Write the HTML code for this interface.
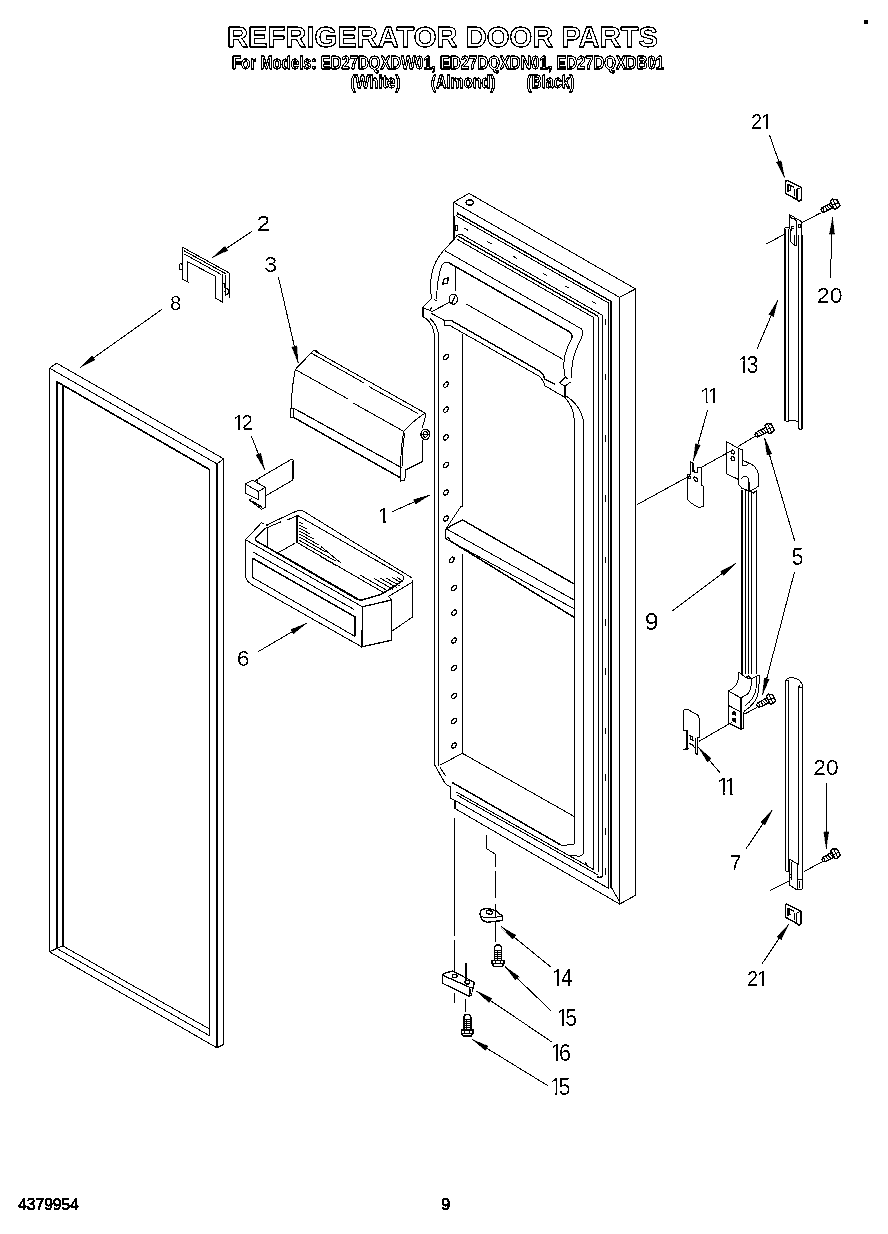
<!DOCTYPE html>
<html lang="en">
<head>
<meta charset="utf-8">
<title>Refrigerator Door Parts</title>
<style>
html,body{margin:0;padding:0;background:#fff;}
body{width:888px;height:1234px;overflow:hidden;font-family:"Liberation Sans",sans-serif;}
svg{display:block;}
svg text{font-family:"Liberation Sans",sans-serif;}
.n{fill:#000;}
.o{fill:#fff;stroke:#000;stroke-width:0.9;font-weight:bold;}
.b{fill:#000;stroke:#000;stroke-width:0.4;}
.art{fill:none;stroke:#000;stroke-linecap:butt;stroke-linejoin:miter;}
</style>
</head>
<body>
<svg width="888" height="1234" viewBox="0 0 888 1234">
<defs><filter id="bw" x="0" y="0" width="100%" height="100%" color-interpolation-filters="sRGB"><feComponentTransfer><feFuncR type="discrete" tableValues="0 0 1"/><feFuncG type="discrete" tableValues="0 0 1"/><feFuncB type="discrete" tableValues="0 0 1"/></feComponentTransfer></filter><filter id="bw2" x="0" y="0" width="100%" height="100%" color-interpolation-filters="sRGB"><feComponentTransfer><feFuncR type="discrete" tableValues="0 0 0 0 0 1 1 1 1 1 1 1"/><feFuncG type="discrete" tableValues="0 0 0 0 0 1 1 1 1 1 1 1"/><feFuncB type="discrete" tableValues="0 0 0 0 0 1 1 1 1 1 1 1"/></feComponentTransfer></filter>
<clipPath id="c0" clipPathUnits="userSpaceOnUse"><path d="M-4,208.84 h19.91 v19.93 h-19.91 z M-0.60,228.27 h11.12 v4.83 h-11.12 z"/></clipPath>
<clipPath id="c1" clipPathUnits="userSpaceOnUse"><path d="M-4,249.24 h20.95 v20.85 h-20.95 z M-0.60,269.59 h11.99 v4.91 h-11.99 z"/></clipPath>
<clipPath id="c2" clipPathUnits="userSpaceOnUse"><path d="M-4,289.63 h19.98 v19.01 h-19.98 z M-0.60,308.14 h10.96 v4.76 h-10.96 z"/></clipPath>
<clipPath id="c3" clipPathUnits="userSpaceOnUse"><path d="M-4,407.47 h28.31 v20.46 h-28.31 z M3.33,427.43 h2.26 v4.87 h-2.26 z M9.48,427.43 h9.09 v4.87 h-9.09 z"/></clipPath>
<clipPath id="c4" clipPathUnits="userSpaceOnUse"><path d="M-4,501.21 h15.50 v20.33 h-15.50 z M3.31,521.04 h2.24 v4.86 h-2.24 z"/></clipPath>
<clipPath id="c5" clipPathUnits="userSpaceOnUse"><path d="M-4,643.82 h20.49 v20.59 h-20.49 z M-0.60,663.91 h11.56 v4.89 h-11.56 z"/></clipPath>
<clipPath id="c6" clipPathUnits="userSpaceOnUse"><path d="M-4,106.32 h28.90 v20.59 h-28.90 z M-0.60,126.41 h11.45 v4.89 h-11.45 z M16.18,126.41 h2.27 v4.89 h-2.27 z"/></clipPath>
<clipPath id="c7" clipPathUnits="userSpaceOnUse"><path d="M-4,281.04 h32.46 v19.93 h-32.46 z M-0.60,300.47 h11.12 v4.83 h-11.12 z M11.39,300.47 h11.60 v4.83 h-11.60 z"/></clipPath>
<clipPath id="c8" clipPathUnits="userSpaceOnUse"><path d="M-4,349.96 h29.27 v21.11 h-29.27 z M3.43,370.57 h2.33 v4.93 h-2.33 z M9.77,370.57 h9.74 v4.93 h-9.74 z"/></clipPath>
<clipPath id="c9" clipPathUnits="userSpaceOnUse"><path d="M-4,381.51 h22.59 v19.40 h-22.59 z M3.16,400.41 h2.14 v4.79 h-2.14 z M10.45,400.41 h2.14 v4.79 h-2.14 z"/></clipPath>
<clipPath id="c10" clipPathUnits="userSpaceOnUse"><path d="M-4,541.71 h21.41 v21.25 h-21.41 z M-0.60,562.46 h12.19 v4.94 h-12.19 z"/></clipPath>
<clipPath id="c11" clipPathUnits="userSpaceOnUse"><path d="M-4,606.66 h20.66 v21.11 h-20.66 z M-0.60,627.27 h11.84 v4.93 h-11.84 z"/></clipPath>
<clipPath id="c12" clipPathUnits="userSpaceOnUse"><path d="M-4,771.56 h23.62 v21.11 h-23.62 z M3.43,792.17 h2.33 v4.93 h-2.33 z M11.24,792.17 h2.33 v4.93 h-2.33 z"/></clipPath>
<clipPath id="c13" clipPathUnits="userSpaceOnUse"><path d="M-4,753.49 h32.69 v20.07 h-32.69 z M-0.60,773.06 h11.19 v4.84 h-11.19 z M11.50,773.06 h11.67 v4.84 h-11.67 z"/></clipPath>
<clipPath id="c14" clipPathUnits="userSpaceOnUse"><path d="M-4,848.81 h19.76 v19.40 h-19.76 z M-0.60,867.71 h10.84 v4.79 h-10.84 z"/></clipPath>
<clipPath id="c15" clipPathUnits="userSpaceOnUse"><path d="M-4,963.61 h28.63 v20.33 h-28.63 z M-0.60,983.44 h11.32 v4.86 h-11.32 z M15.98,983.44 h2.24 v4.86 h-2.24 z"/></clipPath>
<clipPath id="c16" clipPathUnits="userSpaceOnUse"><path d="M-4,961.49 h31.50 v22.56 h-31.50 z M3.67,983.55 h2.49 v5.05 h-2.49 z M10.41,983.55 h11.14 v5.05 h-11.14 z"/></clipPath>
<clipPath id="c17" clipPathUnits="userSpaceOnUse"><path d="M-4,1002.97 h29.54 v21.38 h-29.54 z M3.48,1023.85 h2.36 v4.95 h-2.36 z M9.89,1023.85 h9.86 v4.95 h-9.86 z"/></clipPath>
<clipPath id="c18" clipPathUnits="userSpaceOnUse"><path d="M-4,1036.72 h29.95 v22.17 h-29.95 z M3.60,1058.39 h2.44 v5.01 h-2.44 z M10.24,1058.39 h9.86 v5.01 h-9.86 z"/></clipPath>
<clipPath id="c19" clipPathUnits="userSpaceOnUse"><path d="M-4,1071.74 h29.90 v21.78 h-29.90 z M3.54,1093.02 h2.40 v4.98 h-2.40 z M10.07,1093.02 h10.02 v4.98 h-10.02 z"/></clipPath>
</defs>
<g filter="url(#bw)">
<rect width="888" height="1234" fill="#fff"/>
<text class="o" x="227" y="47.2" font-size="30" textLength="431" lengthAdjust="spacingAndGlyphs" text-anchor="start">REFRIGERATOR DOOR PARTS</text>
<text class="o" x="232" y="68.9" font-size="17.5" textLength="432" lengthAdjust="spacingAndGlyphs" text-anchor="start">For Models: ED27DQXDW01, ED27DQXDN01, ED27DQXDB01</text>
<text class="o" x="350.5" y="87.6" font-size="17.5" textLength="50" lengthAdjust="spacingAndGlyphs" text-anchor="start">(White)</text>
<text class="o" x="431" y="87.6" font-size="17.5" textLength="64.5" lengthAdjust="spacingAndGlyphs" text-anchor="start">(Almond)</text>
<text class="o" x="526.5" y="87.6" font-size="17.5" textLength="48" lengthAdjust="spacingAndGlyphs" text-anchor="start">(Black)</text>
<text class="b" x="18.2" y="1209.8" font-size="16.4" textLength="60.6" lengthAdjust="spacingAndGlyphs" text-anchor="start">4379954</text>
<text class="b" x="441.4" y="1210.2" font-size="16.4" textLength="8.8" lengthAdjust="spacingAndGlyphs" text-anchor="start">9</text>
</g>
<g filter="url(#bw2)">
<rect y="100" width="888" height="1060" fill="#fff"/>
<text class="n" transform="translate(258.00,0) scale(1.109,1)" x="-1.09" y="230.6" font-size="21.76" clip-path="url(#c0)">2</text>
<text class="n" transform="translate(265.00,0) scale(1.020,1)" x="-0.86" y="272" font-size="22.76" clip-path="url(#c1)">3</text>
<text class="n" transform="translate(170.80,0) scale(0.994,1)" x="-0.89" y="310.4" font-size="20.77" clip-path="url(#c2)">8</text>
<text class="n" transform="translate(235.10,0) scale(0.940,1)" x="-2.14 6.67" y="429.8" font-size="22.33" clip-path="url(#c3)">12</text>
<text class="n" transform="translate(379.80,0) scale(1.053,1)" x="-2.13" y="523.4" font-size="22.19" clip-path="url(#c4)">1</text>
<text class="n" transform="translate(237.80,0) scale(1.032,1)" x="-1.15" y="666.3" font-size="22.48" clip-path="url(#c5)">6</text>
<text class="n" transform="translate(752.10,0) scale(0.852,1)" x="-1.12 10.68" y="128.8" font-size="22.48" clip-path="url(#c6)">21</text>
<text class="n" transform="translate(817.90,0) scale(1.063,1)" x="-1.09 11.14" y="302.8" font-size="21.76" clip-path="url(#c7)">20</text>
<text class="n" transform="translate(740.00,0) scale(0.931,1)" x="-2.21 7.11" y="373" font-size="23.04" clip-path="url(#c8)">13</text>
<text class="n" transform="translate(702.20,0) scale(1.035,1)" x="-2.03 5.26" y="402.7" font-size="21.19" clip-path="url(#c9)">11</text>
<text class="n" transform="translate(792.70,0) scale(0.910,1)" x="-0.93" y="564.9" font-size="23.19" clip-path="url(#c10)">5</text>
<text class="n" transform="translate(646.00,0) scale(1.090,1)" x="-1.08" y="629.7" font-size="23.04" clip-path="url(#c11)">9</text>
<text class="n" transform="translate(719.00,0) scale(1.005,1)" x="-2.21 5.60" y="794.6" font-size="23.04" clip-path="url(#c12)">11</text>
<text class="n" transform="translate(814.30,0) scale(1.041,1)" x="-1.10 11.25" y="775.4" font-size="21.91" clip-path="url(#c13)">20</text>
<text class="n" transform="translate(730.50,0) scale(1.037,1)" x="-1.08" y="870" font-size="21.19" clip-path="url(#c14)">7</text>
<text class="n" transform="translate(748.10,0) scale(0.863,1)" x="-1.11 10.54" y="985.8" font-size="22.19" clip-path="url(#c15)">21</text>
<text class="n" transform="translate(554.10,0) scale(0.864,1)" x="-2.36 7.99" y="986.1" font-size="24.61" clip-path="url(#c16)">14</text>
<text class="n" transform="translate(558.60,0) scale(0.919,1)" x="-2.24 7.15" y="1026.3" font-size="23.33" clip-path="url(#c17)">15</text>
<text class="n" transform="translate(552.70,0) scale(0.898,1)" x="-2.32 7.12" y="1060.9" font-size="24.18" clip-path="url(#c18)">16</text>
<text class="n" transform="translate(552.00,0) scale(0.909,1)" x="-2.28 7.27" y="1095.5" font-size="23.76" clip-path="url(#c19)">15</text>
</g>
<g class="art" shape-rendering="crispEdges">
<rect x="864" y="20" width="4" height="4" fill="#000" stroke="none"/>
<polyline points="49.5,368.2 56.6,363.2 223.8,458.9 223.8,1044.3 217,1047.8 49.5,951.9 49.5,368.2" stroke-width="1.0"/>
<polyline points="49.5,368.2 217,463.8 223.8,458.9" stroke-width="1.0"/>
<polyline points="217,463.8 217,1047.8" stroke-width="2"/>
<polyline points="56.8,948.4 56.8,381.3 209.5,469.2 209.5,1035.7" stroke-width="1.0"/>
<polyline points="57.3,381.3 57.3,948.4" stroke-width="2"/>
<polyline points="56.8,948.4 209.5,1035.7" stroke-width="1.0"/>
<polyline points="63.3,946 63.3,385" stroke-width="2"/>
<polyline points="57,381.8 209.5,469.7" stroke-width="1.5"/>
<polyline points="63,946 209.5,1029" stroke-width="1.0"/>
<polyline points="49.5,951.9 56.8,948.4 63,946" stroke-width="1.0"/>
<polyline points="182.4,279.3 182.4,247.2 229.3,273 229.3,298.2" stroke-width="1.0"/>
<polyline points="184.2,250.8 226.6,274.2" stroke-width="1.0"/>
<polyline points="184.2,254 221.2,274.5" stroke-width="1.0"/>
<polyline points="182.4,279.3 188.7,282.5" stroke-width="1.0"/>
<polyline points="187,282 187,261.3 215.8,276.6 215.8,298.2 222,301.8 222,274" stroke-width="1.0"/>
<polyline points="225.5,275 225.5,296" stroke-width="1.0"/>
<ellipse cx="180.8" cy="266.7" rx="1.5" ry="3" stroke-width="1.0" fill="none"/>
<ellipse cx="226.8" cy="291.5" rx="1.6" ry="3.2" stroke-width="1.4" fill="none"/>
<polyline points="222.5,283 224.5,283 224.5,288" stroke-width="1.0"/>
<polyline points="295.3,369.5 313.6,350.3 425.1,413.1" stroke-width="1.0"/>
<path d="M313.6,350.3 Q316,349.5 318,351.5" stroke-width="1.0" fill="none"/>
<polyline points="311.6,353.3 364.3,383.1" stroke-width="1.0"/>
<polyline points="369.3,386.8 418,413.6" stroke-width="1.0"/>
<polyline points="295.3,369.5 348,399" stroke-width="1.0"/>
<polyline points="353.1,403 403.8,431.4" stroke-width="1.0"/>
<path d="M295.3,369.5 Q291.5,388 291.3,408" stroke-width="1.0" fill="none"/>
<polyline points="290.3,408 290.3,417.2 293.3,417.2 293.3,408 290.3,408" stroke-width="1.0"/>
<polyline points="293.3,408 401.8,467.8" stroke-width="1.2"/>
<polyline points="293.3,417.2 400.8,478" stroke-width="1.5"/>
<path d="M403.8,431.4 Q400.5,448 400.8,467.8 L400.8,481 L404.8,480 L405.8,469.9 L422,461.8 L422,440" stroke-width="1.0" fill="none"/>
<path d="M403.8,431.4 Q414,420 425.1,413.1 Q426.5,416 422,428" stroke-width="1.0" fill="none"/>
<path d="M404.5,433 Q402,450 402.5,466" stroke-width="1.0" fill="none"/>
<ellipse cx="425.3" cy="434.4" rx="4.4" ry="5.2" stroke-width="1.3" fill="none"/>
<ellipse cx="425.3" cy="434.4" rx="2.2" ry="2.8" stroke-width="1.0" fill="none"/>
<polyline points="421,434.4 429.5,434.4" stroke-width="1.0"/>
<polyline points="257,479.4 291.4,459.3 293,460.2 293,478.8 292,480.5 266,495.7" stroke-width="1.0"/>
<polyline points="292.3,461 292.3,479" stroke-width="1.6"/>
<polyline points="245.2,483.9 252.5,480.2 265.5,487.3 258.2,491.4 245.2,483.9 245.2,492.9 258.2,499.7 258.2,491.4" stroke-width="1.0"/>
<polyline points="265.5,487.3 265.5,507 261.5,509.2 248.6,499.7" stroke-width="1.0"/>
<polyline points="248.6,499.7 252.5,498.5" stroke-width="1.0"/>
<polyline points="252.5,501.5 262.5,507.5" stroke-width="1.6"/>
<polyline points="254.5,481.2 256.5,479.5 258,482.5" stroke-width="1.0"/>
<path d="M245.6,539.7 L261.5,522.7 L264.4,524.4" stroke-width="1.0" fill="none"/>
<path d="M266.6,525 L296,511.3 Q299.5,509.8 303.5,511.2 L412,577.9 L412.5,617 L392.6,630.7" stroke-width="1.0" fill="none"/>
<path d="M388.3,596.5 L412.3,582.2" stroke-width="1.0" fill="none"/>
<path d="M264.9,528.9 L255.8,537.6 Q254.6,539.6 257,541.4 L356,598.6 Q359,600.4 362,600 L381.3,594.3 Q392,588 402.5,580.8" stroke-width="1.5" fill="none"/>
<path d="M402.5,580.8 Q404.6,578.5 402.6,575.4 L297.3,515.3" stroke-width="1.0" fill="none"/>
<polyline points="264.9,528.6 281.4,521.6" stroke-width="1.0"/>
<polyline points="286.5,520.4 296.2,515.9" stroke-width="1.0"/>
<polyline points="266.6,525 268.5,526.5" stroke-width="1.0"/>
<polyline points="297.3,515.3 297.3,542.6" stroke-width="2"/>
<polyline points="267.6,528.4 267.6,546.5" stroke-width="1.0"/>
<polyline points="278,552.8 295,543.1" stroke-width="1.0"/>
<polyline points="297.3,542.6 383.6,592.6" stroke-width="1.0"/>
<polyline points="278,552.8 358,598.8" stroke-width="1.0"/>
<polyline points="299.5,522.0 303.5,524.3" stroke-width="1.0"/>
<polyline points="299.5,525.0 306.5,529.0" stroke-width="1.0"/>
<polyline points="299.5,528.0 309.5,533.7" stroke-width="1.0"/>
<polyline points="299.5,531.0 313.5,539.0" stroke-width="1.0"/>
<polyline points="299.5,534.0 318.5,544.8" stroke-width="1.0"/>
<polyline points="299.5,537.0 325.5,551.8" stroke-width="1.0"/>
<polyline points="299.5,540.5 335.5,561.0" stroke-width="1.0"/>
<polyline points="360,575 386,589.8" stroke-width="1.0"/>
<polyline points="374,578.5 393,589.3" stroke-width="1.0"/>
<polyline points="380,578 397,587.7" stroke-width="1.0"/>
<polyline points="386,578 400,586.0" stroke-width="1.0"/>
<polyline points="392,577.5 401,582.6" stroke-width="1.0"/>
<polyline points="397,577.5 402,580.4" stroke-width="1.0"/>
<polyline points="321,546.5 341.5,563.5" stroke-width="1.0"/>
<polyline points="320,556.3 336,565.5" stroke-width="1.0"/>
<path d="M245.6,539.7 L245.6,576 Q246,581 251.9,584.6 L361.6,646.8" stroke-width="1.0" fill="none"/>
<polyline points="245.6,539.7 362.4,606.8" stroke-width="1.0"/>
<polyline points="253,552 354.4,609.7" stroke-width="1.0"/>
<polyline points="252.5,558.2 354.8,616.8 354.8,636.3" stroke-width="1.5"/>
<polyline points="252.5,558.2 252.5,577.4 354.8,636.3" stroke-width="1.0"/>
<polyline points="362.4,606.8 391.4,600 391.4,640.3 362,646.8 362.4,606.8" stroke-width="1.3"/>
<polyline points="388.5,596 391.4,600" stroke-width="1.0"/>
<line x1="251.8" y1="231.5" x2="212.2" y2="257.7" stroke-width="1.0"/>
<polygon points="212.2,257.7 224.9,246.2 227.8,250.5" fill="#000" stroke="#000" stroke-width="0.3"/>
<line x1="278.5" y1="277.5" x2="298.2" y2="363" stroke-width="1.0"/>
<polygon points="298.2,363.0 291.8,347.0 296.9,345.9" fill="#000" stroke="#000" stroke-width="0.3"/>
<line x1="161.9" y1="309.4" x2="80" y2="367.5" stroke-width="1.0"/>
<polygon points="80.0,367.5 92.4,355.5 95.4,359.8" fill="#000" stroke="#000" stroke-width="0.3"/>
<line x1="251.4" y1="436.3" x2="264.7" y2="469.8" stroke-width="1.0"/>
<polygon points="264.7,469.8 256.0,455.0 260.8,453.0" fill="#000" stroke="#000" stroke-width="0.3"/>
<line x1="392.2" y1="511.7" x2="430.1" y2="494.9" stroke-width="1.0"/>
<polygon points="430.1,494.9 415.6,504.2 413.5,499.4" fill="#000" stroke="#000" stroke-width="0.3"/>
<line x1="258.4" y1="651.5" x2="306.7" y2="623.2" stroke-width="1.0"/>
<polygon points="306.7,623.2 293.3,634.0 290.7,629.6" fill="#000" stroke="#000" stroke-width="0.3"/>
<polyline points="453.6,202.3 469.1,193.4 635.5,288.9 635.5,895.3 619.6,904.1 619.6,297.3 453.6,202.3 453.6,239.8" stroke-width="1.0"/>
<polyline points="619.6,297.3 635.5,288.9" stroke-width="1.0"/>
<polyline points="454.2,216 454.2,239.8" stroke-width="2"/>
<ellipse cx="469.8" cy="202.6" rx="3.6" ry="2.6" stroke-width="1.4" fill="none"/>
<polyline points="457,213.0 611.3,301.5" stroke-width="1.4"/>
<polyline points="457.5,216.5 608.9,303.3" stroke-width="1"/>
<polyline points="461,234.2 602.3,315.2" stroke-width="1"/>
<polyline points="458.5,236.3 598.1,316.3" stroke-width="1.4"/>
<polyline points="457,239.2 593.7,317.6" stroke-width="1"/>
<path d="M461,215.3 Q456.5,213.5 455.6,216.5" stroke-width="1.0" fill="none"/>
<path d="M461,234 Q456.5,234.5 455.6,238" stroke-width="1.0" fill="none"/>
<polyline points="455.3,225 455.3,230 457,230 457,225 455.3,225" stroke-width="1.0"/>
<polyline points="463.5,227.8 467.9,230.2" stroke-width="1.0"/>
<polyline points="487.40000000000003,241.5 491.8,243.9" stroke-width="1.0"/>
<polyline points="512.5,255.9 516.9000000000001,258.3" stroke-width="1.0"/>
<polyline points="542.9,273.3 547.3000000000001,275.7" stroke-width="1.0"/>
<polyline points="564.5999999999999,285.8 569.0,288.2" stroke-width="1.0"/>
<polyline points="591.8,301.3 596.2,303.7" stroke-width="1.0"/>
<polyline points="611.3,301.4 611.3,888" stroke-width="2.2"/>
<polyline points="608.9,303.1 608.9,888.6" stroke-width="1.0"/>
<polyline points="602.3,315.3 602.3,875.7" stroke-width="1.0"/>
<polyline points="598.1,316.6 598.1,872.3" stroke-width="1.0"/>
<polyline points="593.7,318 593.7,868.3" stroke-width="1.0"/>
<polyline points="605.5,319 605.5,325" stroke-width="1.0"/>
<polyline points="605.5,374 605.5,380" stroke-width="1.0"/>
<polyline points="605.5,435 605.5,441.5" stroke-width="1.0"/>
<polyline points="605.5,495 605.5,502" stroke-width="1.0"/>
<polyline points="605.5,557 605.5,563" stroke-width="1.0"/>
<polyline points="605.5,619 605.5,626" stroke-width="1.0"/>
<polyline points="605.5,668 605.5,675" stroke-width="1.0"/>
<polyline points="605.5,728 605.5,734" stroke-width="1.0"/>
<polyline points="605.5,774 605.5,781" stroke-width="1.0"/>
<polyline points="605.5,828 605.5,835" stroke-width="1.0"/>
<polyline points="605.5,868 605.5,875" stroke-width="1.0"/>
<polyline points="453.6,239.8 444.8,249.3" stroke-width="1.0"/>
<polyline points="444.8,250.6 579.5,327.8" stroke-width="1.0"/>
<path d="M579.5,327.8 Q583.5,329.6 582.6,334 L581.8,337" stroke-width="1.0" fill="none"/>
<path d="M444.8,249.3 Q431.5,263 430.6,282.4 L431.2,298.7" stroke-width="1.0" fill="none"/>
<path d="M448.2,262.4 L569,331.6 Q572.8,333.5 571.7,338.3" stroke-width="1.5" fill="none"/>
<path d="M448.2,262.4 Q444.5,261.5 442.3,264.5 Q436.8,278 436.7,298.7" stroke-width="1.0" fill="none"/>
<polyline points="455.2,266.2 455.2,290.5" stroke-width="1.0"/>
<polyline points="444.2,278.6 448.6,277.8 447.3,283.2 442.8,284 444.2,278.6" stroke-width="1.3"/>
<ellipse cx="453.3" cy="299.3" rx="4.2" ry="4.9" stroke-width="1.2" fill="none"/>
<polyline points="451.8,303 455.3,295.8" stroke-width="1.0"/>
<polyline points="448.8,302.7 430.6,312.2" stroke-width="1.0"/>
<polyline points="431.2,298.7 422.4,307.5 422.4,316.3 425.8,318.3" stroke-width="1.0"/>
<polyline points="422.9,307.5 422.9,316.3" stroke-width="1.8"/>
<polyline points="423,307.8 430.3,310.5 431.5,307.2" stroke-width="1.0"/>
<polyline points="434.2,299.6 436.7,300.5" stroke-width="1.0"/>
<polyline points="430.6,312.9 444.1,320.3 444.1,325.1" stroke-width="1.0"/>
<polyline points="444.1,320.3 451,320.3" stroke-width="1.0"/>
<path d="M451,320.3 L537.5,369.9 Q543.6,372.6 544.6,378.9 L554.8,384.3" stroke-width="1.4" fill="none"/>
<path d="M444.1,325.1 L450.2,325.7 L538.5,375.8 Q543.6,379.5 544.6,385.6 L564.9,397.4" stroke-width="1.0" fill="none"/>
<polyline points="466.4,304.1 562.9,359.4" stroke-width="1.0"/>
<path d="M425.8,318.3 Q433.6,325 434.6,336 L434.6,764.9" stroke-width="1.0" fill="none"/>
<path d="M430.2,318.6 Q437.8,325.5 438.7,336 L438.7,765.5" stroke-width="1.0" fill="none"/>
<polyline points="462.4,333.9 462.4,506.2 460.6,506.2" stroke-width="1.0"/>
<path d="M571.7,338.3 Q566,349 564.4,358 Q563,368 565.3,377" stroke-width="1.0" fill="none"/>
<path d="M581.8,337 Q575.5,350 573.4,358 Q571.2,368 571.7,377.5" stroke-width="1.0" fill="none"/>
<polyline points="565.3,377 559.5,382.9 564.9,386.3 570.3,382.2" stroke-width="1.0"/>
<polyline points="565.3,377 567.5,378.8" stroke-width="1.0"/>
<polyline points="564.9,386.3 564.9,397.6" stroke-width="2"/>
<path d="M564.9,397.6 Q573.5,406 574.4,420.6 L574.4,844.2" stroke-width="1.0" fill="none"/>
<path d="M565.6,395.6 Q581.5,406 583.5,422 L583.5,851.5 Q583.3,856 579.1,856.3 L565.6,854.7" stroke-width="1.0" fill="none"/>
<polyline points="574.4,844.2 562.2,845.5 558.2,843.9" stroke-width="1.0"/>
<ellipse cx="445.9" cy="356.9" rx="3.0" ry="1.9" stroke-width="1.3" fill="none" transform="rotate(-48 445.9 356.9)"/>
<ellipse cx="445.9" cy="384.7" rx="3.0" ry="1.9" stroke-width="1.3" fill="none" transform="rotate(-48 445.9 384.7)"/>
<ellipse cx="445.9" cy="409.7" rx="3.0" ry="1.9" stroke-width="1.3" fill="none" transform="rotate(-48 445.9 409.7)"/>
<ellipse cx="445.9" cy="437.4" rx="3.0" ry="1.9" stroke-width="1.3" fill="none" transform="rotate(-48 445.9 437.4)"/>
<ellipse cx="445.9" cy="464.8" rx="3.0" ry="1.9" stroke-width="1.3" fill="none" transform="rotate(-48 445.9 464.8)"/>
<ellipse cx="445.9" cy="492.6" rx="3.0" ry="1.9" stroke-width="1.3" fill="none" transform="rotate(-48 445.9 492.6)"/>
<ellipse cx="445.9" cy="518.6" rx="3.0" ry="1.9" stroke-width="1.3" fill="none" transform="rotate(-48 445.9 518.6)"/>
<ellipse cx="451.8" cy="559.8" rx="3.0" ry="1.9" stroke-width="1.3" fill="none" transform="rotate(-48 451.8 559.8)"/>
<ellipse cx="454" cy="588" rx="3.0" ry="1.9" stroke-width="1.3" fill="none" transform="rotate(-48 454 588)"/>
<ellipse cx="454" cy="612.7" rx="3.0" ry="1.9" stroke-width="1.3" fill="none" transform="rotate(-48 454 612.7)"/>
<ellipse cx="454" cy="640.6" rx="3.0" ry="1.9" stroke-width="1.3" fill="none" transform="rotate(-48 454 640.6)"/>
<ellipse cx="454" cy="668" rx="3.0" ry="1.9" stroke-width="1.3" fill="none" transform="rotate(-48 454 668)"/>
<ellipse cx="454" cy="695.8" rx="3.0" ry="1.9" stroke-width="1.3" fill="none" transform="rotate(-48 454 695.8)"/>
<ellipse cx="454" cy="721" rx="3.0" ry="1.9" stroke-width="1.3" fill="none" transform="rotate(-48 454 721)"/>
<ellipse cx="454" cy="745.5" rx="3.0" ry="1.9" stroke-width="1.3" fill="none" transform="rotate(-48 454 745.5)"/>
<polyline points="462.4,506.2 461,506.2 446.5,528" stroke-width="1.0"/>
<polyline points="445.9,528.7 462.4,519.9 574.9,584.4" stroke-width="1.4"/>
<polyline points="445.9,528.7 445.5,538.5 574.9,609.2" stroke-width="1.0"/>
<polyline points="446.4,528.9 574.9,600.4" stroke-width="1.0"/>
<polyline points="448,537 450.2,540.9 574.9,617.8" stroke-width="1.5"/>
<polyline points="462.4,553.7 462.4,753.3" stroke-width="1.0"/>
<polyline points="440,765.1 462.4,753.3 574.4,816.6" stroke-width="1.0"/>
<polyline points="434.6,764.9 445.4,783.8 450.9,787.2 450.9,798.4 455.6,800.7" stroke-width="1.0"/>
<polyline points="440,767.6 446.1,776.4" stroke-width="1.0"/>
<polyline points="452.2,782.5 560.2,844.6" stroke-width="1.5"/>
<path d="M456.3,792 L592.7,868.9" stroke-width="1.0" fill="none"/>
<polyline points="457,795 598.1,875" stroke-width="1.0"/>
<polyline points="455.6,800.7 608.9,888.6" stroke-width="1.0"/>
<polyline points="455.3,800.7 455.3,808.9" stroke-width="2"/>
<polyline points="455.6,808.9 619.6,904.1" stroke-width="1.0"/>
<polyline points="611.6,887.9 619.2,901" stroke-width="1.0"/>
<polyline points="585,862 587.5,865.5" stroke-width="1.0"/>
<path d="M593.7,868.3 Q593.5,870 591.5,869.6" stroke-width="1.0" fill="none"/>
<path d="M602.3,875.7 Q602,877.6 598.6,877.2 L596.6,876.4" stroke-width="1.4" fill="none"/>
<polyline points="454.6,818.3 454.6,936" stroke-width="1.0"/>
<polyline points="454.6,940 454.6,972" stroke-width="1.0"/>
<polyline points="454.6,992.5 454.6,1002.5" stroke-width="1.0"/>
<polyline points="486.7,835.3 486.7,848.8 495.5,854.2 495.5,866.5" stroke-width="1.0"/>
<polyline points="495.5,871 495.5,897.5" stroke-width="1.0"/>
<polyline points="495.5,904 495.5,910.5" stroke-width="1.0"/>
<polyline points="495.5,922.4 495.5,941.7" stroke-width="1.0"/>
<polyline points="466.2,963 466.2,980" stroke-width="1.6"/>
<polyline points="465.6,998.5 465.6,1011.6" stroke-width="1.0"/>
<path d="M785.5,181.4 L787.0,180.4 L801.4,187.6 L801.4,199.70000000000002 L799.2,201.20000000000002 L796.9,199.5 L785.5,193.3 Z" stroke-width="1.5" fill="none"/>
<polyline points="796.9,188.70000000000002 796.9,199.5" stroke-width="1.5"/>
<polyline points="796.9,188.70000000000002 801.4,187.6" stroke-width="1.0"/>
<polyline points="787.8,184.20000000000002 787.8,192.1" stroke-width="1.8"/>
<polyline points="787.8,184.20000000000002 794.5,187.4" stroke-width="1.3"/>
<polyline points="790.0,185.4 790.0,190.4" stroke-width="1.0"/>
<polyline points="794.5,188.9 794.5,195.9" stroke-width="1.3"/>
<polyline points="788.0,189.6 791.0,190.8" stroke-width="1.0"/>
<path d="M785.3,905.2 L786.8,904.2 L801.1999999999999,911.4000000000001 L801.1999999999999,923.5 L799.0,925.0 L796.6999999999999,923.3000000000001 L785.3,917.1 Z" stroke-width="1.5" fill="none"/>
<polyline points="796.6999999999999,912.5 796.6999999999999,923.3000000000001" stroke-width="1.5"/>
<polyline points="796.6999999999999,912.5 801.1999999999999,911.4000000000001" stroke-width="1.0"/>
<polyline points="787.5999999999999,908.0 787.5999999999999,915.9000000000001" stroke-width="1.8"/>
<polyline points="787.5999999999999,908.0 794.3,911.2" stroke-width="1.3"/>
<polyline points="789.8,909.2 789.8,914.2" stroke-width="1.0"/>
<polyline points="794.3,912.7 794.3,919.7" stroke-width="1.3"/>
<polyline points="787.8,913.4000000000001 790.8,914.6" stroke-width="1.0"/>
<path d="M821.5,208.0 L831.2,202.9 M823.6,212.3 L833.5,207.5" stroke-width="1.3" fill="none"/>
<path d="M821.5,208.0 Q819.9,211.5 823.6,212.3 Q824.8,209.0 821.5,208.0" stroke-width="1.2" fill="none"/>
<polyline points="824.6,206.4 827.6,210.2" stroke-width="1.0"/>
<polyline points="826.8,205.3 829.9,209.1" stroke-width="1.0"/>
<polyline points="829.1,204.2 832.1,208.0" stroke-width="1.0"/>
<path d="M830.3,201.1 L832.7,199.2 L836.8,199.6 L839.8,205.5 L837.4,208.5 L834.4,209.3 Z" stroke-width="1.4" fill="none"/>
<polyline points="832.7,199.2 837.4,208.5" stroke-width="1.0"/>
<polyline points="833.3,204.7 838.0,202.9" stroke-width="1.0"/>
<path d="M755.5,432.8 L765.7,427.3 M757.7,437.0 L768.1,431.9" stroke-width="1.3" fill="none"/>
<path d="M755.5,432.8 Q754.0,436.3 757.7,437.0 Q758.9,433.8 755.5,432.8" stroke-width="1.2" fill="none"/>
<polyline points="758.6,431.2 761.7,435.0" stroke-width="1.0"/>
<polyline points="760.9,430.0 764.0,433.8" stroke-width="1.0"/>
<polyline points="763.1,428.9 766.2,432.7" stroke-width="1.0"/>
<path d="M764.8,425.5 L767.2,423.6 L771.3,424.0 L774.3,429.8 L771.9,432.8 L769.0,433.7 Z" stroke-width="1.4" fill="none"/>
<polyline points="767.2,423.6 771.9,432.8" stroke-width="1.0"/>
<polyline points="767.8,429.1 772.5,427.3" stroke-width="1.0"/>
<path d="M757.3,703.0 L767.0,697.9 M759.4,707.3 L769.3,702.5" stroke-width="1.3" fill="none"/>
<path d="M757.3,703.0 Q755.7,706.5 759.4,707.3 Q760.6,704.0 757.3,703.0" stroke-width="1.2" fill="none"/>
<polyline points="760.4,701.4 763.4,705.2" stroke-width="1.0"/>
<polyline points="762.6,700.3 765.7,704.1" stroke-width="1.0"/>
<polyline points="764.9,699.2 767.9,703.0" stroke-width="1.0"/>
<path d="M766.1,696.1 L768.5,694.2 L772.6,694.6 L775.6,700.5 L773.2,703.5 L770.2,704.3 Z" stroke-width="1.4" fill="none"/>
<polyline points="768.5,694.2 773.2,703.5" stroke-width="1.0"/>
<polyline points="769.1,699.7 773.8,697.9" stroke-width="1.0"/>
<path d="M822.4,857.6 L831.7,852.5 M824.6,861.8 L834.1,857.1" stroke-width="1.3" fill="none"/>
<path d="M822.4,857.6 Q820.9,861.1 824.6,861.8 Q825.7,858.5 822.4,857.6" stroke-width="1.2" fill="none"/>
<polyline points="825.5,856.0 828.6,859.8" stroke-width="1.0"/>
<polyline points="827.7,854.8 830.8,858.6" stroke-width="1.0"/>
<polyline points="830.0,853.6 833.1,857.4" stroke-width="1.0"/>
<path d="M830.8,850.7 L833.2,848.8 L837.3,849.2 L840.3,855.0 L838.0,858.0 L835.0,858.9 Z" stroke-width="1.4" fill="none"/>
<polyline points="833.2,848.8 838.0,858.0" stroke-width="1.0"/>
<polyline points="833.8,854.4 838.4,852.5" stroke-width="1.0"/>
<polyline points="784.7,228.5 784.7,420.3" stroke-width="2"/>
<polyline points="788.5,229 788.5,421" stroke-width="1.0"/>
<polyline points="798.6,234.7 798.6,428" stroke-width="1.0"/>
<polyline points="802.2,234.7 802.2,429.2" stroke-width="2"/>
<path d="M784.7,420.3 Q786.5,422 788.5,421 Q793,418.5 798.6,422.5" stroke-width="1.0" fill="none"/>
<polyline points="798.6,428 800,429.5 802.2,429.2" stroke-width="1.0"/>
<polyline points="789.5,214.5 801.4,221.6 801.4,234.7" stroke-width="1.0"/>
<polyline points="789.7,214.5 789.7,229" stroke-width="1.4"/>
<polyline points="796.9,220 796.9,245.5 794.8,245.5 794.8,235" stroke-width="1.0"/>
<polyline points="784.4,229 786,227 789.5,227.3" stroke-width="1.0"/>
<polyline points="790.6,229 790.6,241.5 794,245" stroke-width="1.0"/>
<polyline points="791.5,226 794,226" stroke-width="1.0"/>
<polyline points="791.8,228.3 793.5,228.3" stroke-width="1.0"/>
<polyline points="791.8,225.5 791.8,230.5" stroke-width="1.0"/>
<polyline points="798.4,224.6 800.2,224.6 800.2,227.4 798.4,227.4 798.4,224.6" stroke-width="1.0"/>
<polyline points="790,216 792,218.5 794.5,218.8 797,221.5" stroke-width="1.5"/>
<polyline points="766,244.1 784.5,234.2" stroke-width="1.0"/>
<polyline points="802,222.5 820.5,213" stroke-width="1.0"/>
<path d="M785.6,871.4 L785.6,681 Q786,677.6 792,677.6 Q799.5,678 802.4,685 L802.4,889" stroke-width="1.0" fill="none"/>
<polyline points="788.7,680.3 788.7,871.4" stroke-width="1.0"/>
<polyline points="785.6,680.3 788.7,680.3" stroke-width="1.0"/>
<polyline points="798.3,686 798.3,864.5" stroke-width="1.0"/>
<polyline points="798.3,687.6 802.4,687.6" stroke-width="1.0"/>
<polyline points="798.8,686 800.3,686" stroke-width="1.6"/>
<polyline points="785.6,871.4 788.7,871.4" stroke-width="1.0"/>
<polyline points="789.4,859.2 797.5,864 797.5,878.9" stroke-width="1.0"/>
<polyline points="789.4,859.2 789.4,885 795.5,889 802.4,889" stroke-width="1.0"/>
<polyline points="791.5,861.5 791.5,880" stroke-width="1.0"/>
<polyline points="797,879 797,889" stroke-width="1.0"/>
<polyline points="797,879 802.4,879" stroke-width="1.0"/>
<polyline points="799.5,881 799.5,887.5" stroke-width="1.5"/>
<polyline points="788.5,874.5 791.5,874.5" stroke-width="1.0"/>
<polyline points="788.5,877.5 791.5,877.5" stroke-width="1.0"/>
<polyline points="770.4,890.4 789.4,880.9" stroke-width="1.0"/>
<polyline points="804.3,871.4 821.9,861.9" stroke-width="1.0"/>
<polyline points="742.2,465.5 742.2,449.9 738.9,448.6 726.3,441.4 726.3,473.6 738.9,479.7 738.9,448.6" stroke-width="1.0"/>
<ellipse cx="732.8" cy="452" rx="1.6" ry="2" stroke-width="1.2" fill="none" transform="rotate(-30 732.8 452)"/>
<ellipse cx="732.8" cy="458.7" rx="1.6" ry="2" stroke-width="1.2" fill="none" transform="rotate(-30 732.8 458.7)"/>
<path d="M742.2,460 L752.4,464.8 Q758,469 758.5,476 L758.5,486 Q752,491 749,491.2" stroke-width="1.0" fill="none"/>
<path d="M738.9,479.7 L738.2,484.4 L742.2,488.5 L748,490.5" stroke-width="1.0" fill="none"/>
<path d="M742.2,465.5 Q746,466 748,464.5" stroke-width="1.0" fill="none"/>
<path d="M741.5,478.8 Q743.2,476 746.3,476.6 Q749,478 749,481.7" stroke-width="1.0" fill="none"/>
<polyline points="749,481.7 749,491.2" stroke-width="1.8"/>
<polyline points="750,491.5 753.5,493 757,490" stroke-width="1.0"/>
<polyline points="741.2,489.8 741.2,674" stroke-width="1.0"/>
<polyline points="742.9,489.8 742.9,674" stroke-width="1.0"/>
<polyline points="745.6,489.8 745.6,674" stroke-width="1.0"/>
<polyline points="748.3,489.8 748.3,674" stroke-width="1.0"/>
<polyline points="751.5,489.8 751.5,674" stroke-width="1.0"/>
<polyline points="756.5,489.8 756.5,674" stroke-width="1.0"/>
<path d="M739,672.2 L745.8,677.6 L751.5,679 L759.3,674.9" stroke-width="1.0" fill="none"/>
<polyline points="745.8,677.6 748.5,676.2 751.5,679" stroke-width="1.6"/>
<path d="M739,672.2 L737.9,681 Q736.5,687 728.2,691.1 L728.2,722.9 L741,729.3 L743.8,728.3 L743.8,712" stroke-width="1.0" fill="none"/>
<path d="M728.2,691.1 L741,697.9 L748,693.8 Q751.5,690 751.8,679" stroke-width="1.0" fill="none"/>
<polyline points="741,697.9 741,729.3" stroke-width="1.8"/>
<path d="M759.3,674.9 L758.8,690 Q757.5,703 743.8,711.5" stroke-width="1.0" fill="none"/>
<path d="M756.5,676.5 L756,689 Q755,698 745,706" stroke-width="1.0" fill="none"/>
<polyline points="728.2,705.3 741,712.1" stroke-width="1.0"/>
<polyline points="733,711.5 735,712.3 735,715 733,714.2 733,711.5" stroke-width="1.3"/>
<polyline points="733,718.2 735,719 735,721.7 733,720.9 733,718.2" stroke-width="1.3"/>
<path d="M690.8,462.1 L693.5,463.5 L694.2,472.9 L697.6,472.9 L697.6,467.5 L701,467.5 L701,485.1 L703.7,486.5 L703.7,506.8 L698.3,507.2 Q690.5,503.5 687.8,499.5 L687.4,475 L690.8,474 Z" stroke-width="1.0" fill="none"/>
<polyline points="692.5,464.5 693,472" stroke-width="1.6"/>
<polyline points="688.3,476 690.2,476 690.2,478.5 688.3,478.5 688.3,476" stroke-width="1.0"/>
<path d="M694.2,476.6 L697.2,478.6 L697.4,481.6 L695.4,481.2 L693.8,478.8 Z" stroke-width="1.2" fill="none"/>
<path d="M683.5,730.4 L683.5,711.5 Q684,708.6 687.5,709.3 L697.5,715 Q699.2,716.2 699.2,718.5 L699.2,737.8" stroke-width="1.0" fill="none"/>
<polyline points="683.5,730.4 687.6,731" stroke-width="1.0"/>
<polyline points="687,731 687,749.3" stroke-width="1.8"/>
<polyline points="683.5,749.6 688.9,748.6" stroke-width="1.5"/>
<path d="M690,735.5 L692.6,736.8 L692.9,740 L690.6,739.5 Z" stroke-width="1.2" fill="none"/>
<polyline points="695,737.8 695,753.4 697,754.2 697,737.8" stroke-width="1.0"/>
<polyline points="697,737.8 699.2,737.8" stroke-width="1.0"/>
<path d="M689.5,743.5 Q693,744.5 694.6,747.6" stroke-width="1.0" fill="none"/>
<polyline points="637.3,504.5 690,475.7" stroke-width="1.0"/>
<polyline points="701,467.5 732.1,450.3" stroke-width="1.0"/>
<polyline points="738.2,446.3 755.1,436.4" stroke-width="1.0"/>
<polyline points="699.1,741.2 732.2,722.2" stroke-width="1.0"/>
<polyline points="744.4,714.1 757.3,707.4" stroke-width="1.0"/>
<path d="M480,913.5 Q480.5,908.6 487,908.6 Q492,908.8 496.5,911 L502.7,916.4 L502.7,920.4 L487.5,922.3 Q480.5,921.5 480,913.5 Z" stroke-width="1.4" fill="none"/>
<path d="M481.5,916.5 Q487,918.5 490,917.8 L502.7,916.4" stroke-width="1.0" fill="none"/>
<ellipse cx="489.5" cy="912.3" rx="3.2" ry="1.8" stroke-width="1.4" fill="none" transform="rotate(15 489.5 912.3)"/>
<polyline points="484,919.5 484,921.5" stroke-width="1.0"/>
<polyline points="495.2,910.5 495.5,917.3" stroke-width="1.0"/>
<path d="M494.4,960.1 L494.4,948.5 Q494.6,945 498,945 Q501.4,945 501.6,948.5 L501.6,960.1" stroke-width="1.6" fill="none"/>
<polyline points="494.6,951 501.4,950" stroke-width="1.2"/>
<polyline points="494.6,953 501.4,952" stroke-width="1.2"/>
<polyline points="494.6,955 501.4,954" stroke-width="1.2"/>
<polyline points="494.6,957 501.4,956" stroke-width="1.2"/>
<polyline points="494.6,959 501.4,958" stroke-width="1.2"/>
<polyline points="497.5,950 497.5,959.6" stroke-width="1.0"/>
<path d="M492.2,960.6 L503.8,960.6 L503.8,964.0 L501.8,966.6 L494.2,966.6 L492.2,964.0 Z" stroke-width="1.6" fill="none"/>
<polyline points="492.4,963.8000000000001 503.6,963.8000000000001" stroke-width="1.0"/>
<polyline points="495.5,960.6 495.5,963.6" stroke-width="1.0"/>
<polyline points="500.5,960.6 500.5,963.6" stroke-width="1.0"/>
<path d="M463.7,1029.5 L463.7,1017.8 Q463.90000000000003,1014.3 467.3,1014.3 Q470.7,1014.3 470.90000000000003,1017.8 L470.90000000000003,1029.5" stroke-width="1.6" fill="none"/>
<polyline points="463.90000000000003,1020 470.7,1019" stroke-width="1.2"/>
<polyline points="463.90000000000003,1022 470.7,1021" stroke-width="1.2"/>
<polyline points="463.90000000000003,1024 470.7,1023" stroke-width="1.2"/>
<polyline points="463.90000000000003,1026 470.7,1025" stroke-width="1.2"/>
<polyline points="463.90000000000003,1028 470.7,1027" stroke-width="1.2"/>
<polyline points="466.8,1019.3 466.8,1029" stroke-width="1.0"/>
<path d="M461.5,1030 L473.1,1030 L473.1,1033.4 L471.1,1036 L463.5,1036 L461.5,1033.4 Z" stroke-width="1.6" fill="none"/>
<polyline points="461.7,1033.2 472.90000000000003,1033.2" stroke-width="1.0"/>
<polyline points="464.8,1030 464.8,1033" stroke-width="1.0"/>
<polyline points="469.8,1030 469.8,1033" stroke-width="1.0"/>
<path d="M442.3,975.1 L444.5,973.2 L452.4,971.1 L474.3,982.2 L473.5,988 L469.7,987.3 L442.3,975.1 L442.3,983.2 L469.7,996.4 L469.7,987.3" stroke-width="1.3" fill="none"/>
<polyline points="469.7,996.4 471.8,995 472.4,988" stroke-width="1.0"/>
<ellipse cx="454.9" cy="976" rx="2.4" ry="1.9" stroke-width="1.2" fill="none"/>
<ellipse cx="467.3" cy="982.2" rx="2.5" ry="1.9" stroke-width="1.2" fill="none"/>
<polyline points="470.8,988.5 470.8,994" stroke-width="1.0"/>
<line x1="769.5" y1="135.1" x2="784.5" y2="177.5" stroke-width="1.0"/>
<polygon points="784.5,177.5 776.4,162.3 781.3,160.6" fill="#000" stroke="#000" stroke-width="0.3"/>
<line x1="830.3" y1="277.5" x2="832.6" y2="217.1" stroke-width="1.0"/>
<polygon points="832.6,217.1 834.6,234.2 829.4,234.0" fill="#000" stroke="#000" stroke-width="0.3"/>
<line x1="756.8" y1="349.5" x2="777.8" y2="300" stroke-width="1.0"/>
<polygon points="777.8,300.0 773.6,316.7 768.8,314.6" fill="#000" stroke="#000" stroke-width="0.3"/>
<line x1="707.6" y1="410.3" x2="693.3" y2="460.7" stroke-width="1.0"/>
<polygon points="693.3,460.7 695.4,443.6 700.4,445.1" fill="#000" stroke="#000" stroke-width="0.3"/>
<line x1="794.6" y1="540.5" x2="764.6" y2="438.1" stroke-width="1.0"/>
<polygon points="764.6,438.1 771.9,453.7 766.9,455.1" fill="#000" stroke="#000" stroke-width="0.3"/>
<line x1="794.6" y1="571.6" x2="762.4" y2="695.2" stroke-width="1.0"/>
<polygon points="762.4,695.2 764.2,678.1 769.2,679.4" fill="#000" stroke="#000" stroke-width="0.3"/>
<line x1="672.4" y1="610.8" x2="735.8" y2="563.3" stroke-width="1.0"/>
<polygon points="735.8,563.3 723.8,575.6 720.6,571.4" fill="#000" stroke="#000" stroke-width="0.3"/>
<line x1="719.8" y1="772.6" x2="698.4" y2="747.3" stroke-width="1.0"/>
<polygon points="698.4,747.3 711.4,758.6 707.4,762.0" fill="#000" stroke="#000" stroke-width="0.3"/>
<line x1="826" y1="783.5" x2="826.3" y2="848.7" stroke-width="1.0"/>
<polygon points="826.3,848.7 823.6,831.7 828.8,831.7" fill="#000" stroke="#000" stroke-width="0.3"/>
<line x1="746.1" y1="848.7" x2="772.4" y2="809.7" stroke-width="1.0"/>
<polygon points="772.4,809.7 765.1,825.2 760.7,822.3" fill="#000" stroke="#000" stroke-width="0.3"/>
<line x1="762.3" y1="963.4" x2="788.7" y2="924.2" stroke-width="1.0"/>
<polygon points="788.7,924.2 781.4,939.8 777.0,936.8" fill="#000" stroke="#000" stroke-width="0.3"/>
<line x1="550.8" y1="967" x2="501.1" y2="926.5" stroke-width="1.0"/>
<polygon points="501.1,926.5 515.9,935.2 512.6,939.3" fill="#000" stroke="#000" stroke-width="0.3"/>
<line x1="550.8" y1="1010.6" x2="505.1" y2="966.6" stroke-width="1.0"/>
<polygon points="505.1,966.6 519.1,976.5 515.5,980.3" fill="#000" stroke="#000" stroke-width="0.3"/>
<line x1="551.8" y1="1042" x2="476.4" y2="991" stroke-width="1.0"/>
<polygon points="476.4,991.0 491.9,998.4 489.0,1002.7" fill="#000" stroke="#000" stroke-width="0.3"/>
<line x1="547.7" y1="1085.6" x2="472.3" y2="1039.4" stroke-width="1.0"/>
<polygon points="472.3,1039.4 488.2,1046.1 485.4,1050.5" fill="#000" stroke="#000" stroke-width="0.3"/>
</g>
</svg>
</body>
</html>
